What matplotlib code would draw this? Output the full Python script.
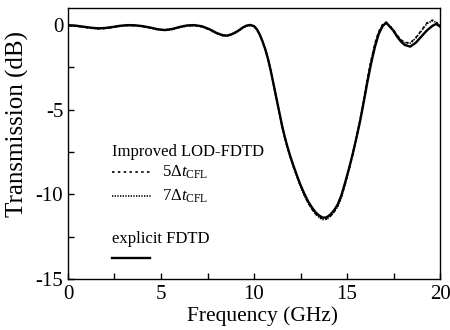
import numpy as np
import matplotlib
matplotlib.use('Agg')
import matplotlib.pyplot as plt

plt.rcParams['font.family'] = 'Liberation Serif'
plt.rcParams['mathtext.fontset'] = 'custom'
plt.rcParams['mathtext.rm'] = 'Liberation Serif'
plt.rcParams['mathtext.it'] = 'Liberation Serif:italic'
plt.rcParams['axes.unicode_minus'] = False

# --------------------------------------
# Data (GHz, dB)

freq = [0.0, 0.4, 0.8, 1.2, 1.6, 2.0, 2.4, 2.8, 3.2, 3.6, 4.0, 4.4, 4.8, 5.2, 5.6,
        6.0, 6.4, 6.8, 7.2, 7.6, 8.0, 8.3, 8.55, 8.8, 9.1, 9.4, 9.6, 9.8, 10.0,
        10.15, 10.3, 10.45, 10.6, 10.75, 10.9, 11.05, 11.2, 11.35, 11.5, 11.65,
        11.8, 11.95, 12.1, 12.3, 12.5, 12.7, 12.9, 13.1, 13.3, 13.5, 13.7, 13.9,
        14.1, 14.3, 14.5, 14.7, 14.9, 15.1, 15.3, 15.5, 15.7, 15.9, 16.1, 16.3,
        16.5, 16.7, 16.9, 17.1, 17.3, 17.5, 17.7, 17.9, 18.1, 18.4, 18.7, 19.0,
        19.3, 19.6, 19.8, 20.0]

# explicit FDTD
trans_fdtd = [-0.02, -0.04, -0.1, -0.16, -0.2, -0.18, -0.12, -0.05, -0.01, -0.02,
              -0.07, -0.15, -0.25, -0.3, -0.24, -0.12, -0.03, -0.01, -0.08, -0.25,
              -0.48, -0.6, -0.63, -0.55, -0.38, -0.15, -0.04, 0.0, -0.07, -0.25,
              -0.55, -0.95, -1.42, -2.0, -2.7, -3.5, -4.3, -5.1, -5.9, -6.6, -7.2,
              -7.75, -8.25, -8.86, -9.45, -9.95, -10.4, -10.75, -11.05, -11.25,
              -11.38, -11.36, -11.2, -10.95, -10.6, -10.05, -9.3, -8.5, -7.65, -6.7,
              -5.7, -4.55, -3.35, -2.25, -1.3, -0.55, -0.1, 0.14, -0.1, -0.35, -0.7,
              -0.98, -1.18, -1.28, -1.05, -0.68, -0.32, -0.05, 0.06, -0.1]

# improved LOD-FDTD, 5 dt_CFL
trans_5cfl = [-0.04, -0.06, -0.12, -0.18, -0.22, -0.2, -0.14, -0.07, -0.03, -0.04,
              -0.09, -0.17, -0.27, -0.32, -0.26, -0.14, -0.05, -0.03, -0.1, -0.27,
              -0.5, -0.62, -0.65, -0.57, -0.4, -0.17, -0.06, -0.02, -0.08, -0.25,
              -0.54, -0.93, -1.4, -1.97, -2.68, -3.48, -4.3, -5.1, -5.92, -6.63,
              -7.24, -7.8, -8.3, -8.92, -9.52, -10.03, -10.48, -10.84, -11.14,
              -11.35, -11.47, -11.45, -11.29, -11.04, -10.7, -10.15, -9.4, -8.55,
              -7.65, -6.65, -5.6, -4.4, -3.15, -2.05, -1.1, -0.4, 0.0, 0.15, -0.05,
              -0.3, -0.62, -0.88, -1.03, -1.07, -0.75, -0.32, 0.12, 0.28, 0.16,
              -0.04]

# improved LOD-FDTD, 7 dt_CFL
trans_7cfl = [-0.05, -0.07, -0.13, -0.19, -0.23, -0.21, -0.15, -0.08, -0.04, -0.05,
              -0.1, -0.18, -0.28, -0.33, -0.27, -0.15, -0.06, -0.04, -0.11, -0.28,
              -0.51, -0.63, -0.66, -0.58, -0.41, -0.18, -0.07, -0.03, -0.09, -0.26,
              -0.55, -0.94, -1.41, -1.98, -2.69, -3.5, -4.32, -5.12, -5.94, -6.65,
              -7.26, -7.82, -8.32, -8.94, -9.54, -10.05, -10.5, -10.86, -11.16,
              -11.37, -11.49, -11.47, -11.31, -11.06, -10.72, -10.17, -9.42, -8.58,
              -7.68, -6.68, -5.63, -4.43, -3.18, -2.08, -1.13, -0.43, -0.02, 0.13,
              -0.06, -0.31, -0.63, -0.89, -1.04, -1.08, -0.77, -0.35, 0.08, 0.25,
              0.14, -0.05]

# --------------------------------------

fig = plt.figure(figsize=(4.5, 3.3), dpi=100)
ax = fig.add_axes([0.1511, 0.1545, 0.8267, 0.8213])

dot5 = (0, (1.5, 2.0))
dot7 = (0, (0.8, 0.8))
ax.plot(freq, trans_5cfl, color='black', lw=1.2, linestyle=dot5)
ax.plot(freq, trans_7cfl, color='black', lw=1.2, linestyle=dot7)
ax.plot(freq, trans_fdtd, color='black', lw=1.7)

ax.set_xlim(0, 20)
ax.set_ylim(-15, 1)
ax.set_xticks([0, 5, 10, 15, 20])
ax.set_xticks([2.5, 7.5, 12.5, 17.5], minor=True)
ax.set_yticks([0, -5, -10, -15])
ax.set_yticks([-2.5, -7.5, -12.5], minor=True)
ax.tick_params(which='both', direction='in', length=4, width=1, labelsize=15)
ax.tick_params(axis='x', which='both', pad=4.5)
ax.tick_params(axis='y', which='both', pad=3.5)
for s in ax.spines.values():
    s.set_linewidth(1.0)

ax.set_xlabel('Frequency (GHz)', fontsize=15.5)
ax.set_ylabel('Transmission (dB)', fontsize=18)
ax.xaxis.set_label_coords(0.523, -0.10)
ax.yaxis.set_label_coords(-0.105, 0.572)

# hand-made legend block
tr = ax.transAxes
ax.text(0.117, 0.47, 'Improved LOD-FDTD', transform=tr, fontsize=12, va='center')
ax.plot([0.117, 0.226], [0.394, 0.394], transform=tr, color='black', lw=1.2,
        linestyle=dot5)
ax.text(0.252, 0.394, r'5$\Delta t_{\mathrm{CFL}}$', transform=tr, fontsize=12,
        va='center')
ax.plot([0.117, 0.226], [0.306, 0.306], transform=tr, color='black', lw=1.2,
        linestyle=dot7)
ax.text(0.252, 0.306, r'7$\Delta t_{\mathrm{CFL}}$', transform=tr, fontsize=12,
        va='center')
ax.text(0.117, 0.146, 'explicit FDTD', transform=tr, fontsize=12, va='center')
ax.plot([0.117, 0.22], [0.076, 0.076], transform=tr, color='black', lw=1.7)

fig.savefig('out.png', dpi=100)
